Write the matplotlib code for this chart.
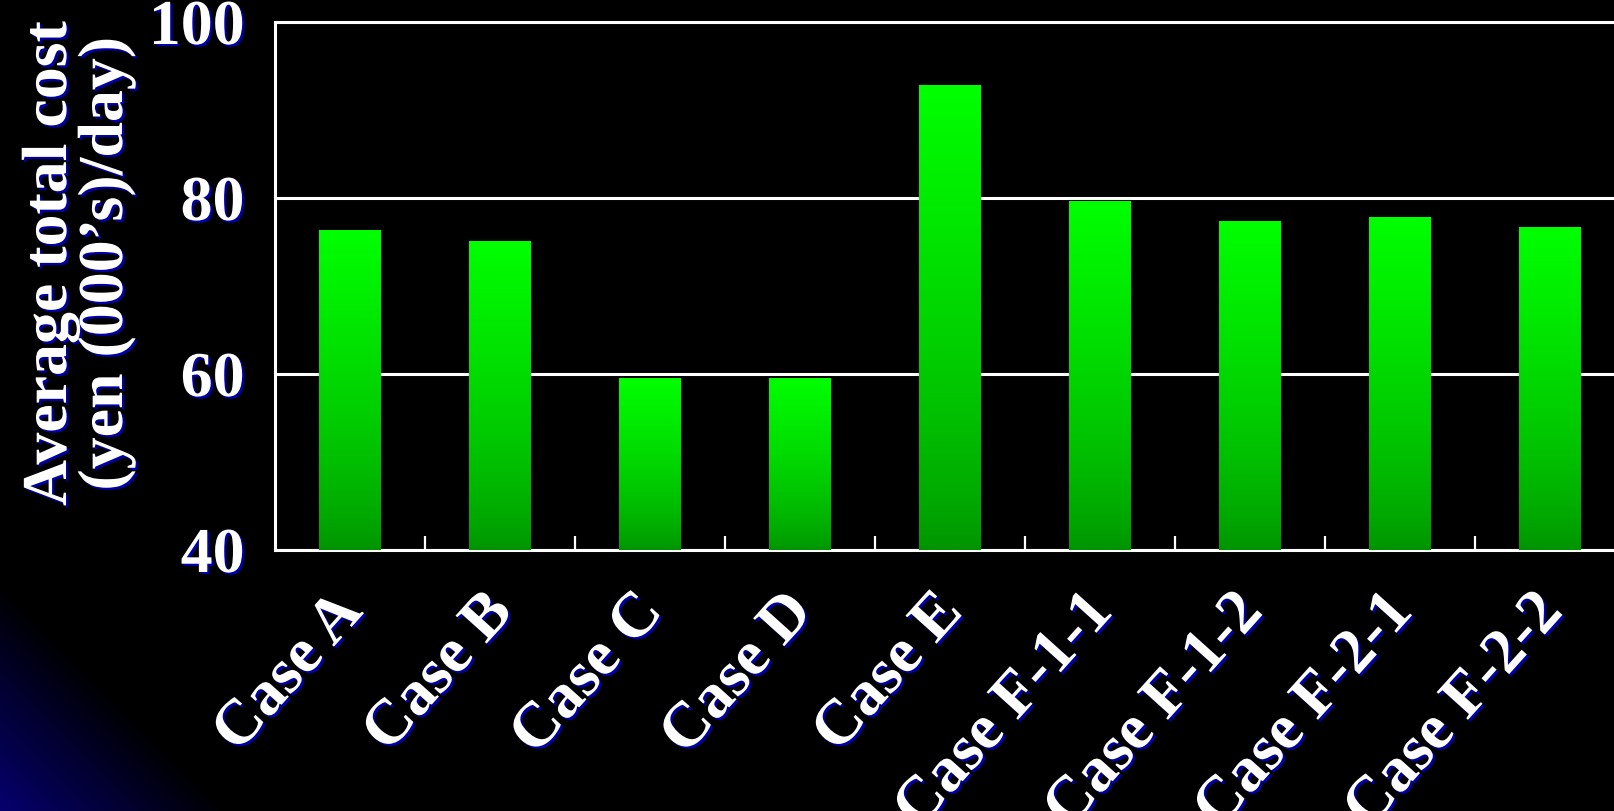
import numpy as np
import matplotlib
matplotlib.use("Agg")
from matplotlib import pyplot as plt
import matplotlib.patheffects as pe
from matplotlib.transforms import ScaledTranslation

# costes medios por caso
casos = ["Case A", "Case B", "Case C", "Case D", "Case E",
         "Case F-1-1", "Case F-1-2", "Case F-2-1", "Case F-2-2"]
costes = [76.4, 75.1, 59.5, 59.5, 92.8, 79.7, 77.4, 77.8, 76.7]
yticks = [40, 60, 80, 100]

W, H = 1614, 812
fig = plt.figure(figsize=(W / 100, H / 100), dpi=100, facecolor="black")

# fondo negro con degradado azul en la esquina inferior izquierda
fondo = fig.add_axes([0, 0, 1, 1], zorder=-1)
xx, yy = np.meshgrid(np.arange(W), np.arange(H))
s = xx + (H - 1 - yy)
azul = np.clip(1 - s / 228.0, 0, 1) * 0.43
img = np.zeros((H, W, 3))
img[..., 2] = azul
img[..., 0] = azul * 0.05
fondo.imshow(img, aspect="auto", extent=[0, 1, 0, 1], origin="upper")
fondo.axis("off")

fuente = "Liberation Serif"
sombra = [pe.SimplePatchShadow(offset=(1.6, -1.6), shadow_rgbFace="#0000a8", alpha=1.0),
          pe.Normal()]

ax = fig.add_axes([275 / W, 1 - 551 / H, 1350 / W, 528 / H])
ax.set_facecolor("black")

x = np.arange(len(casos))
ancho = 0.41
barras = ax.bar(x, costes, width=ancho, color="none", zorder=3)

# degradado vertical dentro de cada barra
t = np.linspace(0, 1, 256) ** 0.7
grad = np.zeros((256, 1, 3))
grad[:, 0, 1] = (146 + 109 * t[::-1]) / 255.0
for b, v in zip(barras, costes):
    x0 = b.get_x()
    im = ax.imshow(grad, aspect="auto", extent=[x0, x0 + ancho, yticks[0], v],
                   origin="upper", zorder=3, interpolation="bilinear")
    im.set_clip_path(b)

ax.set_xlim(-0.5, len(casos) - 0.5)
ax.set_ylim(yticks[0], yticks[-1])
ax.set_yticks(yticks)
ax.set_yticklabels([str(v) for v in yticks])
ax.yaxis.grid(True, color="white", linewidth=2.2, zorder=1)
ax.set_axisbelow(True)

for lado in ["left", "bottom", "top"]:
    ax.spines[lado].set_color("white")
    ax.spines[lado].set_linewidth(2.2)
ax.spines["right"].set_visible(False)

ax.tick_params(axis="y", length=0, pad=22, colors="white")
ax.set_xticks(x)
ax.set_xticklabels([])
ax.set_xticks(x[:-1] + 0.5, minor=True)
ax.tick_params(axis="x", which="major", length=0)
ax.tick_params(axis="x", which="minor", direction="in", length=10, width=1.6,
               color="white")

for lab in ax.get_yticklabels():
    lab.set_fontfamily(fuente)
    lab.set_fontweight("bold")
    lab.set_fontsize(46)
    lab.set_color("white")
    lab.set_path_effects(sombra)

# etiquetas de categoria giradas
desplaza = ax.get_xaxis_transform() + ScaledTranslation(0.03, -0.53, fig.dpi_scale_trans)
for xi, nombre in zip(x, casos):
    ax.text(xi, 0, nombre, transform=desplaza, rotation=48, ha="right", va="center",
            rotation_mode="anchor", fontfamily=fuente, fontweight="bold",
            fontsize=46, color="white", path_effects=sombra, clip_on=False)

ax.set_ylabel("Average total cost\n(yen (000\u2019s)/day)", fontfamily=fuente,
              fontweight="bold", fontsize=46, color="white", linespacing=0.95,
              multialignment="center", path_effects=sombra)
ax.yaxis.label.set_va("center")
ax.yaxis.set_label_coords((79 - 275) / 1350, (551 - 265) / 528)

fig.savefig("out.png", dpi=100, facecolor="black")
